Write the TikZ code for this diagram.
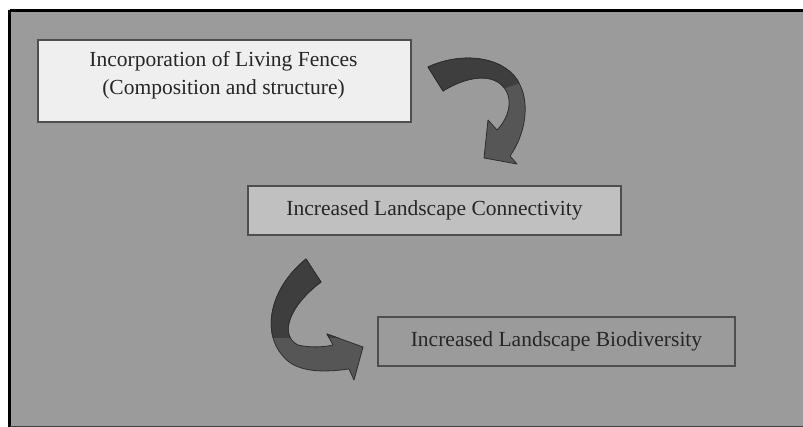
\documentclass[tikz,border=0pt]{standalone}
\usepackage{fontspec}
\setmainfont{Liberation Serif}
\definecolor{bg}{HTML}{9B9B9B}
\definecolor{boxline}{HTML}{4E4E4E}
\definecolor{fillA}{HTML}{EFEFEF}
\definecolor{fillB}{HTML}{C0C0C0}
\definecolor{txt}{HTML}{262626}
\definecolor{arrowdark}{HTML}{3E3E3E}
\definecolor{arrowlight}{HTML}{565656}
\definecolor{arrowedge}{HTML}{2E2E2E}
\begin{document}
\begin{tikzpicture}[x=1pt,y=-1pt,
  box/.style={draw=boxline, line width=1.8pt, inner sep=0pt, text=txt, align=center},
  bigtext/.style={font=\fontsize{21.5}{28}\selectfont, text=txt, align=center},
  arrowshape/.style={fill=arrowlight, draw=arrowedge, line width=0.8pt, line join=round}]
\useasboundingbox (0,0) rectangle (803,427);
\clip (0,0) rectangle (803,427);
\fill[white] (0,0) rectangle (803,427);
\fill[bg] (9.5,10.5) rectangle (803,426);
\draw[line width=3pt, black] (9.5,10.5) -- (809,10.5);
\draw[line width=3pt, black] (9.5,10.5) -- (9.5,430);
\draw[line width=1.5pt, black!75] (9.5,426.5) -- (803,426.5);

\node[box, fill=fillA, minimum width=373pt, minimum height=82pt] (living) at (224.5,81) {};
\node[bigtext] (livingtext) at (223.5,75)
  {Incorporation of Living Fences\\(Composition and structure)};
\node[box, bigtext, fill=fillB, minimum width=373pt, minimum height=49pt] (connect) at (434.5,210.5)
  {Increased Landscape Connectivity};
\node[box, bigtext, fill=bg, minimum width=357pt, minimum height=49pt] (biodiv) at (556.5,341.5)
  {Increased Landscape Biodiversity};

% curved arrow 1
\def\arrowone{(428,67) -- (443,91) .. controls (470,74) and (500,72) .. (508,95)
  .. controls (512,108) and (505,122) .. (497,130) -- (488,120) -- (484,158) -- (517,164)
  -- (510,156) .. controls (525,135) and (530,105) .. (520,85)
  .. controls (508,58) and (465,50) .. (428,67) -- cycle}
\path[arrowshape] \arrowone;
\begin{scope}
  \clip (400,30) -- (540,30) -- (540,76) -- (500,90) -- (400,100) -- cycle;
  \fill[arrowdark] \arrowone;
  \draw[arrowedge, line width=0.8pt, line join=round] \arrowone;
\end{scope}

% curved arrow 2
\def\arrowtwo{(306,259) -- (321,282) .. controls (290,305) and (278,335) .. (298,345)
  .. controls (310,348) and (325,347) .. (333,345) -- (327,334) -- (363,347) -- (354,380)
  -- (349,369) .. controls (320,373) and (295,372) .. (282,355)
  .. controls (263,333) and (268,290) .. (306,259) -- cycle}
\path[arrowshape] \arrowtwo;
\begin{scope}
  \clip (250,240) rectangle (340,338);
  \fill[arrowdark] \arrowtwo;
  \draw[arrowedge, line width=0.8pt, line join=round] \arrowtwo;
\end{scope}
\end{tikzpicture}
\end{document}
